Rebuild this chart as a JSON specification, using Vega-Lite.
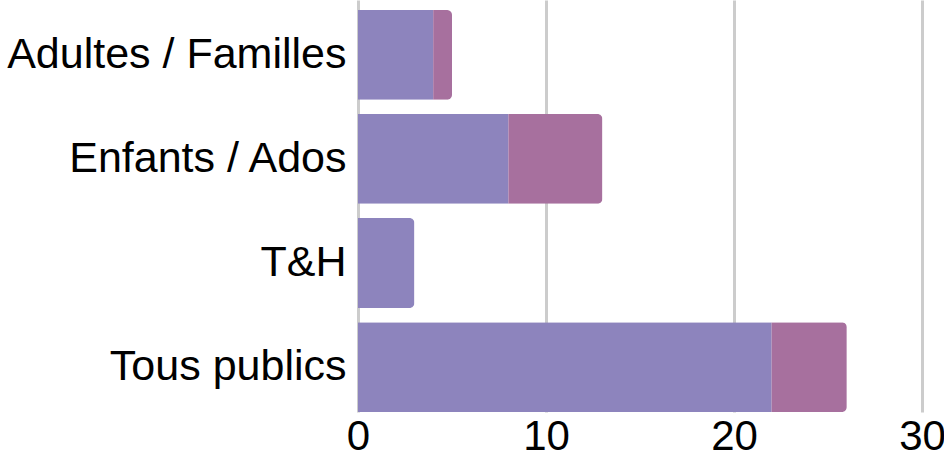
{
  "$schema": "https://vega.github.io/schema/vega-lite/v6.json",
  "autosize": "none",
  "width": 564,
  "height": 412,
  "padding": {"left": 358, "top": 0, "right": 22, "bottom": 45},
  "background": "white",
  "data": {"values": [
    {"public": "Adultes / Familles", "serie": "A", "ordre": 1, "valeur": 4},
    {"public": "Adultes / Familles", "serie": "B", "ordre": 2, "valeur": 1},
    {"public": "Enfants / Ados", "serie": "A", "ordre": 1, "valeur": 8},
    {"public": "Enfants / Ados", "serie": "B", "ordre": 2, "valeur": 5},
    {"public": "T&H", "serie": "A", "ordre": 1, "valeur": 3},
    {"public": "Tous publics", "serie": "A", "ordre": 1, "valeur": 22},
    {"public": "Tous publics", "serie": "B", "ordre": 2, "valeur": 4}
  ]},
  "mark": {"type": "bar", "cornerRadiusEnd": 5},
  "encoding": {
    "y": {
      "field": "public", "type": "nominal", "sort": null,
      "scale": {"paddingInner": 0.137, "paddingOuter": 0.048, "align": 1},
      "axis": {"title": null, "ticks": false, "domain": false, "labelFontSize": 43, "labelFont": "Liberation Sans", "labelColor": "#000000", "labelPadding": 12, "labelLimit": 400}
    },
    "x": {
      "field": "valeur", "type": "quantitative", "stack": "zero",
      "scale": {"domain": [0, 30], "nice": false},
      "axis": {"title": null, "values": [0, 10, 20, 30], "ticks": false, "domain": false, "grid": true, "gridColor": "#cccccc", "gridWidth": 3, "labelFontSize": 42, "labelFont": "Liberation Sans", "labelColor": "#000000", "labelPadding": 4, "labelFlush": false}
    },
    "color": {
      "field": "serie", "type": "nominal",
      "scale": {"domain": ["A", "B"], "range": ["#8d84bd", "#a7709e"]},
      "legend": null
    },
    "order": {"field": "ordre"}
  },
  "config": {"view": {"stroke": null}}
}
